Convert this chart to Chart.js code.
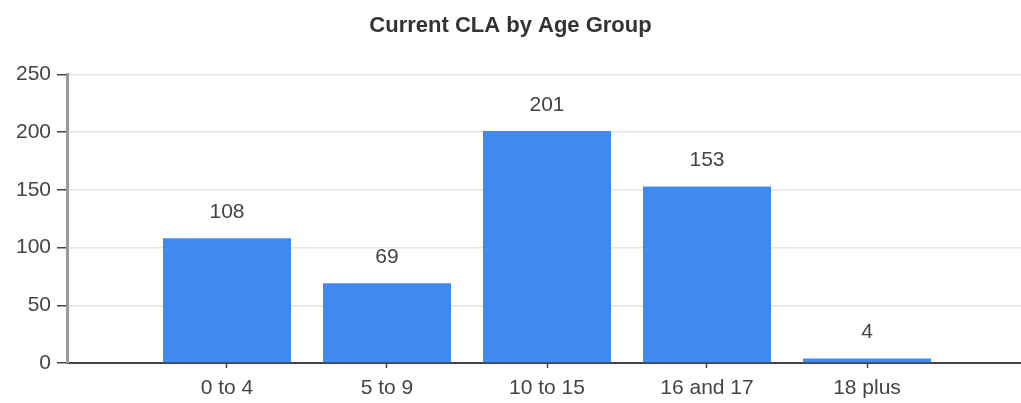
<!DOCTYPE html>
<html>
<head>
<meta charset="utf-8">
<script src="https://cdn.jsdelivr.net/npm/chart.js@4"></script>
<style>
  body { margin: 0; background: #fff; }
  canvas { display: block; }
</style>
</head>
<body>
<canvas id="claChart" width="1021" height="403"></canvas>
<script>
// dati del grafico
const ageGroups = ['0 to 4', '5 to 9', '10 to 15', '16 and 17', '18 plus'];
const claCounts = [108, 69, 201, 153, 4];
const yTicks = [0, 50, 100, 150, 200, 250];

Chart.defaults.font.family = '"Liberation Sans", Arial, sans-serif';
Chart.defaults.color = '#444';

// etichette con i valori sopra le barre
const valueLabels = {
    id: 'valueLabels',
    afterDatasetsDraw(chart) {
        const ctx = chart.ctx;
        const meta = chart.getDatasetMeta(0);
        ctx.save();
        ctx.font = '21px "Liberation Sans", Arial, sans-serif';
        ctx.fillStyle = '#444';
        ctx.textAlign = 'center';
        ctx.textBaseline = 'middle';
        meta.data.forEach(function(bar, i) {
            ctx.fillText(String(claCounts[i]), bar.x, bar.y - 26);
        });
        ctx.restore();
    }
};

const ctx = document.getElementById('claChart').getContext('2d');
new Chart(ctx, {
    type: 'bar',
    data: {
        datasets: [{
            label: 'Current CLA',
            data: claCounts.map((v, i) => ({ x: i, y: v })),
            backgroundColor: '#4189EC',
            borderWidth: 0,
            barPercentage: 0.8,
            categoryPercentage: 1
        }]
    },
    options: {
        responsive: false,
        animation: false,
        layout: { padding: 0 },
        scales: {
            x: {
                type: 'linear',
                offset: false,
                min: -1,
                max: 4.9625,
                afterBuildTicks: function(scale) {
                    scale.ticks = ageGroups.map((g, i) => ({ value: i }));
                },
                afterFit: function(scale) { scale.height = 40; },
                grid: {
                    offset: false,
                    drawOnChartArea: false,
                    tickLength: 5,
                    tickColor: '#444',
                    tickWidth: 1.5
                },
                border: { color: '#444', width: 2 },
                ticks: {
                    padding: 8,
                    font: { size: 21 },
                    color: '#444',
                    maxRotation: 0,
                    autoSkip: false,
                    callback: function(value) { return ageGroups[value]; }
                }
            },
            y: {
                min: 0,
                max: 250,
                afterBuildTicks: function(scale) {
                    scale.ticks = yTicks.map(v => ({ value: v }));
                },
                afterFit: function(scale) { scale.width = 67; },
                grid: {
                    color: '#e6e6e6',
                    lineWidth: 1.5,
                    tickLength: 10,
                    tickColor: '#444',
                    tickWidth: 1.5
                },
                border: { color: '#999', width: 3 },
                ticks: {
                    padding: 6,
                    font: { size: 21 },
                    color: '#444'
                }
            }
        },
        plugins: {
            legend: { display: false },
            tooltip: { enabled: false },
            title: {
                display: true,
                text: 'Current CLA by Age Group',
                color: '#333',
                font: { size: 22, weight: 'bold' },
                padding: { top: 13, bottom: 35 }
            }
        }
    },
    plugins: [valueLabels]
});
</script>
</body>
</html>
